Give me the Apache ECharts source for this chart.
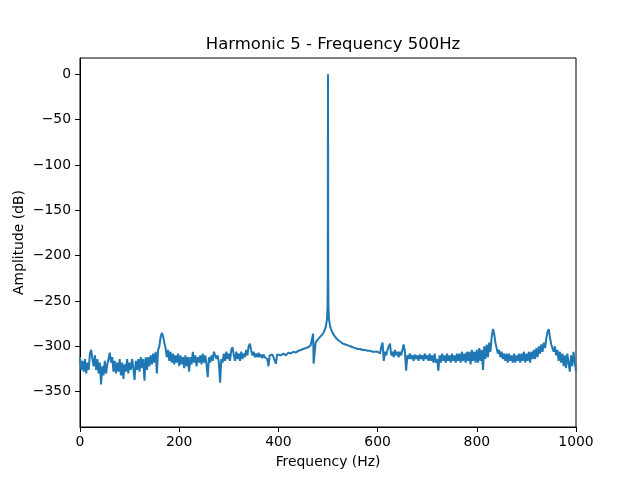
<!DOCTYPE html>
<html>
<head>
<meta charset="utf-8">
<script src="https://cdn.jsdelivr.net/npm/echarts@6/dist/echarts.min.js"></script>
<style>
  html, body { margin: 0; padding: 0; background: #fff; }
  #chart { width: 640px; height: 480px; }
</style>
</head>
<body>
<div id="chart"></div>
<script>
// spectrum, in dB
// 0 .. 400 Hz, one value every 2.5 Hz (one row = 10 Hz)
const lowStart = 0
const lowAmps = [
  -312, -326, -316, -328,
  -314, -330, -318, -326,
  -308, -304, -314, -322,
  -310, -326, -314, -330,
  -318, -342, -322, -332,
  -316, -330, -320, -314,
  -307, -318, -312, -328,
  -316, -330, -318, -328,
  -314, -332, -318, -336,
  -320, -328, -314, -330,
  -318, -326, -314, -324,
  -337, -316, -326, -314,
  -328, -312, -324, -314,
  -338, -312, -326, -312,
  -322, -310, -320, -308,
  -318, -306, -330, -304,
  -300, -290, -285, -289,
  -296, -302, -312, -304,
  -316, -306, -318, -308,
  -320, -310, -318, -308,
  -322, -310, -320, -312,
  -324, -310, -322, -312,
  -328, -312, -320, -306,
  -318, -310, -322, -312,
  -318, -310, -320, -308,
  -318, -310, -320, -334,
  -312, -318, -310, -316,
  -306, -304, -314, -310,
  -318, -340, -314, -318,
  -308, -316, -306, -314,
  -308, -316, -304, -301,
  -310, -316, -306, -314,
  -308, -316, -306, -314,
  -308, -312, -304, -310,
  -300, -297, -304, -310,
  -306, -312, -308, -312,
  -307, -312, -309, -313,
  -309, -312, -310, -314,
  -322, -310, -312, -309,
  -312, -310, -319, -309,
  -311
]

// 405 .. 595 Hz, around the 500 Hz peak
const peakFreqs = [
  405, 410, 415, 420, 425, 430, 435, 440, 445, 450, 455, 460, 465, 468, 470, 471, 475,
  480, 485, 490, 494, 496, 498, 499, 499.5, 500, 500.5, 501, 502, 504, 506,
  510, 515, 520, 525, 530, 535, 540, 545, 550, 555, 560, 565, 570, 575, 580, 585, 590, 595
]
const peakAmps = [
  -310, -308, -310, -307, -308, -306, -307, -305, -304, -303, -302, -301, -299, -298, -286, -319, -296,
  -292, -289, -286, -281, -277, -270, -258, -225, 0, -225, -258, -270, -277, -281,
  -286, -290, -293, -295, -297, -298, -299, -300, -301, -302, -303, -303, -304, -304, -305, -305, -306, -306
]

// 600 .. 1000 Hz, one value every 2.5 Hz (one row = 10 Hz)
const highStart = 600
const highAmps = [
  -306, -304, -308, -300,
  -296, -316, -306, -310,
  -304, -300, -297, -310,
  -306, -312, -304, -310,
  -306, -312, -306, -310,
  -304, -298, -306, -327,
  -310, -314, -308, -314,
  -310, -316, -309, -314,
  -310, -316, -309, -314,
  -310, -316, -308, -314,
  -310, -316, -308, -316,
  -310, -318, -308, -318,
  -314, -327, -310, -318,
  -308, -316, -310, -318,
  -308, -316, -310, -318,
  -308, -316, -310, -318,
  -308, -316, -308, -318,
  -306, -316, -308, -318,
  -306, -316, -306, -320,
  -304, -316, -306, -318,
  -304, -318, -302, -316,
  -304, -326, -300, -314,
  -298, -312, -296, -306,
  -290, -281, -286, -296,
  -302, -308, -304, -312,
  -306, -314, -308, -316,
  -308, -318, -308, -316,
  -310, -318, -308, -318,
  -310, -316, -308, -318,
  -308, -316, -306, -318,
  -308, -316, -306, -318,
  -306, -314, -304, -314,
  -302, -312, -300, -308,
  -298, -306, -296, -302,
  -292, -284, -281, -290,
  -298, -302, -306, -300,
  -310, -304, -316, -306,
  -318, -308, -322, -310,
  -324, -308, -318, -328,
  -310, -322, -306, -318,
  -327
]
const step = 2.5
const xTicks = [0, 200, 400, 600, 800, 1000]
const yTicks = [0, -50, -100, -150, -200, -250, -300, -350]

function buildSeries () {
  const pts = []
  lowAmps.forEach((v, i) => pts.push([lowStart + i * step, v]))
  peakFreqs.forEach((f, i) => pts.push([f, peakAmps[i]]))
  highAmps.forEach((v, i) => pts.push([highStart + i * step, v]))
  return pts
}

const minus = v => String(v).replace('-', '\u2212')
const fontFamily = 'DejaVu Sans'
const chart = echarts.init(document.getElementById('chart'))

const option = {
  animation: false,
  backgroundColor: '#fff',
  title: {
    text: 'Harmonic 5 - Frequency 500Hz',
    left: 328,
    top: 31,
    textAlign: 'center',
    textStyle: { fontFamily, fontSize: 16.5, fontWeight: 'normal', color: '#000' }
  },
  grid: {
    left: 80, right: 64, top: 58, bottom: 53,
    show: true, borderColor: '#000', borderWidth: 1
  },
  xAxis: {
    type: 'value',
    min: 0, max: 1000,
    name: 'Frequency (Hz)',
    nameLocation: 'middle',
    nameGap: 28,
    nameMoveOverlap: false,
    nameTextStyle: { fontFamily, fontSize: 13.9, color: '#000' },
    axisLine: { show: true, onZero: false, lineStyle: { color: '#000', width: 1 } },
    axisTick: { show: true, inside: false, length: 5, customValues: xTicks, lineStyle: { color: '#000' } },
    axisLabel: { fontFamily, fontSize: 13.9, color: '#000', margin: 8, customValues: xTicks, formatter: v => String(v) },
    splitLine: { show: false }
  },
  yAxis: {
    type: 'value',
    min: -389, max: 18,
    name: 'Amplitude (dB)',
    nameLocation: 'middle',
    nameGap: 54,
    nameMoveOverlap: false,
    nameTextStyle: { fontFamily, fontSize: 13.9, color: '#000' },
    axisLine: { show: true, onZero: false, lineStyle: { color: '#000', width: 1 } },
    axisTick: { show: true, inside: false, length: 5, customValues: yTicks, lineStyle: { color: '#000' } },
    axisLabel: {
      fontFamily, fontSize: 13.9, color: '#000', margin: 9,
      customValues: yTicks,
      formatter: minus
    },
    splitLine: { show: false }
  },
  series: [{
    type: 'line',
    data: buildSeries(),
    showSymbol: false,
    symbol: 'none',
    lineStyle: { color: '#1f77b4', width: 2 },
    clip: true
  }]
}

chart.setOption(option)
</script>
</body>
</html>
